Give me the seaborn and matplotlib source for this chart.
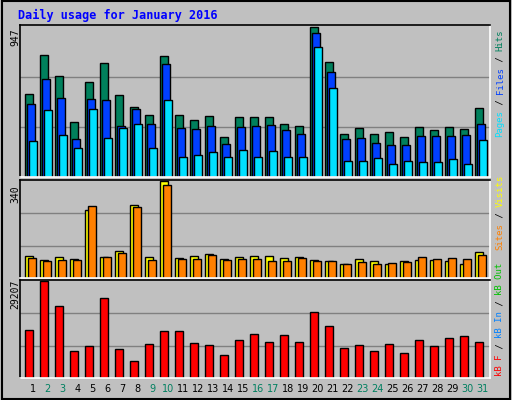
import numpy as np
import pandas as pd
import matplotlib
matplotlib.use("Agg")
import matplotlib.pyplot as plt
import seaborn as sns
from matplotlib.patches import Rectangle

# ==========================================================
# DADOS
# ==========================================================
dias = list(range(1, 32))
fim_de_semana = [2, 3, 9, 10, 16, 17, 23, 24, 30, 31]

hits = [523, 767, 638, 343, 600, 716, 516, 439, 388, 761, 388, 356, 381, 253, 375, 375,
        375, 336, 324, 947, 722, 272, 311, 272, 285, 253, 317, 298, 317, 304, 433]
files = [458, 619, 497, 240, 491, 484, 324, 426, 336, 709, 311, 304, 324, 208, 317, 324,
         330, 298, 272, 908, 658, 240, 246, 214, 201, 201, 259, 259, 259, 266, 336]
pages = [227, 420, 266, 182, 426, 246, 311, 336, 182, 484, 124, 137, 156, 124, 169, 124,
         163, 124, 124, 818, 561, 99, 99, 118, 79, 99, 92, 92, 111, 79, 234]
visits = [78, 63, 74, 67, 240, 74, 96, 255, 74, 340, 70, 78, 85, 67, 74, 78,
          78, 70, 74, 63, 59, 48, 67, 59, 48, 59, 63, 63, 59, 48, 92]
sites = [70, 59, 63, 63, 251, 74, 89, 248, 63, 325, 67, 67, 81, 63, 67, 67,
         59, 59, 70, 59, 59, 48, 55, 48, 52, 55, 74, 67, 70, 67, 81]
kb_f = [14498, 29207, 21533, 8102, 9701, 24092, 8741, 5223, 10340, 14178, 14178, 10660,
        10020, 6822, 11300, 13218, 10980, 12899, 10980, 19934, 15777, 9061, 10020, 8102,
        10340, 7462, 11300, 9701, 11939, 12579, 10980]

FUNDO = "#c0c0c0"
W, H = 512, 400


def px_ax(fig, l, t, r, b):
    return fig.add_axes([l / W, 1 - b / H, (r - l) / W, (b - t) / H])


def estilo(ax, ymax):
    ax.set_facecolor(FUNDO)
    ax.set_xlim(0.4, 31.73)
    ax.set_ylim(0, ymax * 1.01)
    for y in (ymax / 3, 2 * ymax / 3):
        ax.axhline(y, color="#808080", lw=1, zorder=0)
    ax.set_xticks([])
    ax.set_yticks([])
    ax.set_xlabel("")
    ax.set_ylabel("")
    for s in ("top", "left"):
        ax.spines[s].set_color("black")
    for s in ("bottom", "right"):
        ax.spines[s].set_color("white")
    for s in ax.spines.values():
        s.set_linewidth(1.2)


def barras(ax, valores, cor, deslocamento, largura=0.5):
    df = pd.DataFrame({"x": np.array(dias) + deslocamento, "v": valores})
    sns.barplot(data=df, x="x", y="v", native_scale=True, color=cor, width=largura,
                edgecolor="black", linewidth=1, saturation=1, ax=ax)


def rotulo(fig, x, y_base, partes, tam=6.5):
    # texto vertical multicolorido, lido de baixo para cima
    passo = 5.4
    pos = 0
    for txt, cor in partes:
        fig.text(x / W, 1 - (y_base - pos * passo) / H, txt, rotation=90, ha="center",
                 va="bottom", color=cor, fontsize=tam, family="DejaVu Sans Mono")
        pos += len(txt)


sns.set_theme(style="white")
fig = plt.figure(figsize=(5.12, 4.0), dpi=100, facecolor=FUNDO)
fig.patches.append(Rectangle((0.003, 0.003), 0.994, 0.994, transform=fig.transFigure,
                             fill=False, edgecolor="black", lw=1.5))

fig.text(18 / W, 1 - 15 / H, "Daily usage for January 2016", color="#0000ff",
         fontsize=8.5, fontweight="bold", family="DejaVu Sans Mono", va="center")

# Painel 1 - hits / files / pages
ax1 = px_ax(fig, 20, 25, 490, 177)
barras(ax1, hits, "#00805c", 0.0)
barras(ax1, files, "#0040ff", 0.13)
barras(ax1, pages, "#00e0ff", 0.28)
estilo(ax1, 947)

# Painel 2 - visits / sites
ax2 = px_ax(fig, 20, 180, 490, 278)
barras(ax2, visits, "#ffff00", 0.0)
barras(ax2, sites, "#ff8000", 0.2)
estilo(ax2, 340)

# Painel 3 - kB
ax3 = px_ax(fig, 20, 280, 490, 378)
barras(ax3, kb_f, "#ff0000", 0.0)
estilo(ax3, 29207)

# rótulos de máximo
for txt, y in (("947", 37), ("340", 194), ("29207", 294)):
    fig.text(15 / W, 1 - y / H, txt, rotation=90, ha="center", va="center",
             fontsize=7, family="DejaVu Sans Mono", color="black")

# legendas laterais
rotulo(fig, 500, 137, [("Pages", "#00e0ff"), (" / ", "black"), ("Files", "#0040ff"),
                       (" / ", "black"), ("Hits", "#00805c")])
rotulo(fig, 500, 250, [("Sites", "#ff8000"), (" / ", "black"), ("Visits", "#ffff00")])
rotulo(fig, 500, 376, [("kB F", "#ff0000"), (" / ", "black"), ("kB In", "#0080ff"),
                       (" / ", "black"), ("kB Out", "#00c000")])

# dias
for d in dias:
    cor = "#008060" if d in fim_de_semana else "black"
    fig.text((20 + (d - 0.4 + 0.25) * 15) / W, 1 - 389 / H, str(d), ha="center",
             va="center", fontsize=7, color=cor)

fig.savefig("out.png", dpi=100, facecolor=FUNDO)
